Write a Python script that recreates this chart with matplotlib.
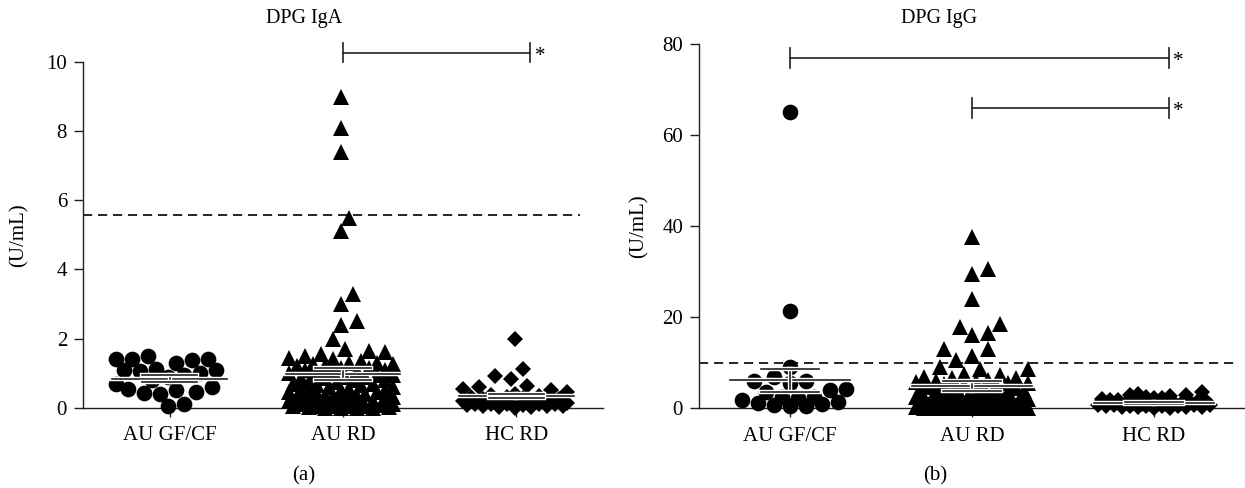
import numpy as np
import matplotlib.pyplot as plt
from matplotlib import patheffects as pe

plt.rcParams['font.family'] = ['Liberation Serif', 'DejaVu Serif']

groups = ['AU GF/CF', 'AU RD', 'HC RD']
markers = ['o', '^', 'D']
marker_sizes = [11.3, 12.0, 8.5]

# DPG IgA (U/mL)
iga_gfcf = [1.50, 1.38, 1.42, 1.40, 1.42, 1.30, 1.12, 1.08, 1.05, 1.10, 1.00, 0.95,
            0.90, 0.80, 0.70, 0.55, 0.50, 0.42, 0.45, 0.40, 0.60, 0.05, 0.12]
iga_aurd = [9.0, 8.1, 7.4, 5.5, 5.1, 3.3, 3.0, 2.5, 2.4, 2.0, 1.7, 1.65, 1.6, 1.55, 1.5,
            1.45, 1.4, 1.35, 1.3, 1.3, 1.25, 1.25, 1.2, 1.2, 1.15, 1.15, 1.1, 1.1, 1.05,
            1.05, 1.0, 1.0, 0.95, 0.95, 0.9, 0.9, 0.85, 0.85, 0.8, 0.8, 0.75, 0.75, 0.7,
            0.7, 0.65, 0.65, 0.6, 0.6, 0.55, 0.55, 0.5, 0.5, 0.45, 0.45, 0.45, 0.4, 0.4,
            0.35, 0.35, 0.35, 0.3, 0.3, 0.3, 0.25, 0.25, 0.25, 0.2, 0.2, 0.2, 0.15, 0.15,
            0.15, 0.15, 0.1, 0.1, 0.1, 0.1, 0.08, 0.05, 0.05, 0.05, 0.05, 0.05, 0.02,
            0.02, 0.0, 0.0, 0.0, 0.0]
iga_hcrd = [2.0, 1.12, 0.92, 0.82, 0.62, 0.6, 0.55, 0.5, 0.45, 0.4, 0.38, 0.35, 0.3,
            0.3, 0.28, 0.25, 0.25, 0.22, 0.2, 0.2, 0.18, 0.15, 0.15, 0.12, 0.12, 0.1,
            0.1, 0.1, 0.08, 0.08, 0.05, 0.05, 0.05, 0.03, 0.02, 0.0]
iga_center = [0.84, 0.97, 0.34]
iga_err_lo = [0.74, 0.80, 0.28]
iga_err_hi = [0.94, 1.15, 0.40]
iga_cutoff = 5.57
iga_sig = [(1, 2, 10.27)]

# DPG IgG (U/mL)
igg_gfcf = [65.0, 21.3, 9.0, 6.8, 6.0, 6.0, 5.6, 4.2, 4.0, 3.5, 2.5, 2.4, 2.3, 1.8,
            1.3, 1.2, 0.9, 0.6, 0.5, 0.4]
igg_aurd = [37.5, 30.5, 29.5, 24.0, 18.5, 17.8, 16.5, 16.0, 13.0, 13.0, 11.5, 10.5,
            9.0, 8.6, 8.5, 7.5, 7.2, 6.8, 6.6, 6.5, 6.2, 6.0, 6.0, 5.8, 5.5, 5.5, 5.2,
            5.0, 5.0, 4.8, 4.6, 4.5, 4.3, 4.2, 4.0, 3.8, 3.8, 3.5, 3.3, 3.2, 3.0, 3.0,
            2.8, 2.6, 2.5, 2.5, 2.4, 2.2, 2.0, 2.0, 2.0, 1.8, 1.6, 1.5, 1.5, 1.4, 1.3,
            1.2, 1.1, 1.0, 1.0, 0.9, 0.8, 0.8, 0.7, 0.6, 0.6, 0.5, 0.5, 0.4, 0.4, 0.3,
            0.3, 0.2, 0.2, 0.2, 0.1, 0.1, 0.1, 0.0, 0.0, 0.0, 0.0, 0.0, 0.0, 0.0, 0.0,
            0.0, 0.0, 0.0]
igg_hcrd = [3.6, 3.0, 2.9, 2.8, 2.7, 2.5, 2.3, 2.2, 2.0, 1.8, 1.7, 1.5, 1.5, 1.3, 1.2,
            1.1, 1.0, 1.0, 0.9, 0.9, 0.8, 0.8, 0.7, 0.7, 0.6, 0.6, 0.5, 0.5, 0.5, 0.4,
            0.4, 0.3, 0.3, 0.2, 0.2, 0.1, 0.1]
igg_center = [6.1, 4.8, 1.1]
igg_err_lo = [3.6, 3.7, 0.9]
igg_err_hi = [8.6, 5.9, 1.3]
igg_cutoff = 10
igg_sig = [(0, 2, 76.9), (1, 2, 66.0)]

INK = '#231f20'


def swarm_x(ax, xc, vals, diam_px, half_w, thr=0.9):
    # beeswarm in pixel space, width capped (points overlap when crowded)
    p0 = ax.transData.transform((0, 0))
    sx = ax.transData.transform((1, 0))[0] - p0[0]
    sy = ax.transData.transform((0, 1))[1] - p0[1]
    hw = half_w * sx
    cands = np.arange(-hw, hw + 0.01, diam_px / 4)
    cands = cands[np.argsort(np.abs(cands), kind='stable')]
    vals = np.asarray(vals, float)
    xs = np.zeros(len(vals))
    placed = []
    for k in np.argsort(vals, kind='stable'):
        y = vals[k] * sy
        best_c, best_d = 0.0, -1.0
        for c in cands:
            if placed:
                p = np.array(placed)
                d = np.min(np.hypot(p[:, 0] - c, p[:, 1] - y)) / diam_px
            else:
                d = np.inf
            if d >= thr:
                best_c = c
                break
            if d > best_d + 1e-9:
                best_c, best_d = c, d
        placed.append((best_c, y))
        xs[k] = xc + best_c / sx
    return xs


def panel(rect, series, center, lo, hi, cutoff, cut_end, sig, ymax, ystep, label_x):
    ax = fig.add_axes(rect)
    ax.set_xlim(-0.5, 2.5)
    ax.set_ylim(0, ymax)
    for s in ['top', 'right']:
        ax.spines[s].set_visible(False)
    for s in ['left', 'bottom']:
        ax.spines[s].set_color(INK)
        ax.spines[s].set_linewidth(1.0)
    ax.set_yticks(np.arange(0, ymax + 1e-9, ystep))
    ax.set_xticks(range(len(groups)))
    ax.set_xticklabels(groups)
    ax.tick_params(axis='both', colors=INK, labelcolor='black', labelsize=15,
                   length=6.5, width=1.0, direction='out')
    ax.tick_params(axis='x', pad=7)
    ax.tick_params(axis='y', pad=5)
    ax.set_ylabel('(U/mL)', fontsize=15)
    ax.yaxis.set_label_coords(label_x, 0.5)

    ax.plot([-0.5, cut_end], [cutoff, cutoff], color='black', lw=1.2,
            ls=(0, (5.5, 3.5)), zorder=1, clip_on=False)

    for i, vals in enumerate(series):
        xs = swarm_x(ax, i, vals, 16, 0.31)
        ax.plot(xs, vals, ls='none', marker=markers[i], ms=marker_sizes[i],
                color='black', mew=0, zorder=3, clip_on=False)

    halo = [pe.Stroke(linewidth=3.2, foreground='white'), pe.Normal()]
    for i in range(len(groups)):
        ax.plot([i - 0.33, i + 0.33], [center[i]] * 2, color=INK, lw=1.2,
                zorder=4, path_effects=halo, clip_on=False)
        ax.plot([i, i], [lo[i], hi[i]], color=INK, lw=1.2, zorder=4,
                path_effects=halo, clip_on=False)
        for yv in (lo[i], hi[i]):
            ax.plot([i - 0.16, i + 0.16], [yv, yv], color=INK, lw=1.2,
                    zorder=4, path_effects=halo, clip_on=False)

    tick_h = ymax * 0.028
    for a, b, yv in sig:
        xe = b + 0.08
        ax.plot([a, xe], [yv, yv], color=INK, lw=1.2, clip_on=False)
        ax.plot([a, a], [yv - tick_h, yv + tick_h], color=INK, lw=1.2, clip_on=False)
        ax.plot([xe, xe], [yv - tick_h, yv + tick_h], color=INK, lw=1.2, clip_on=False)
        ax.text(xe + 0.025, yv - tick_h * 0.35, '*', fontsize=15, ha='left',
                va='center', clip_on=False)
    return ax


fig = plt.figure(figsize=(12.45, 4.88), dpi=100)
W, H = 1245, 488

ax1 = panel([83 / W, 1 - 407.7 / H, 520 / W, 345.7 / H],
            [iga_gfcf, iga_aurd, iga_hcrd], iga_center, iga_err_lo, iga_err_hi,
            iga_cutoff, 2.37, iga_sig, 10, 2, -0.105)

ax2 = panel([699 / W, 1 - 408 / H, 546 / W, 364 / H],
            [igg_gfcf, igg_aurd, igg_hcrd], igg_center, igg_err_lo, igg_err_hi,
            igg_cutoff, 2.45, igg_sig, 80, 20, -0.092)

fig.text(304 / W, 1 - 19 / H, 'DPG IgA', ha='center', va='center', fontsize=14.5)
fig.text(939 / W, 1 - 19 / H, 'DPG IgG', ha='center', va='center', fontsize=14.5)
fig.text(304 / W, 1 - 476 / H, '(a)', ha='center', va='center', fontsize=15)
fig.text(935 / W, 1 - 476 / H, '(b)', ha='center', va='center', fontsize=15)

fig.savefig('out.png', dpi=100)
